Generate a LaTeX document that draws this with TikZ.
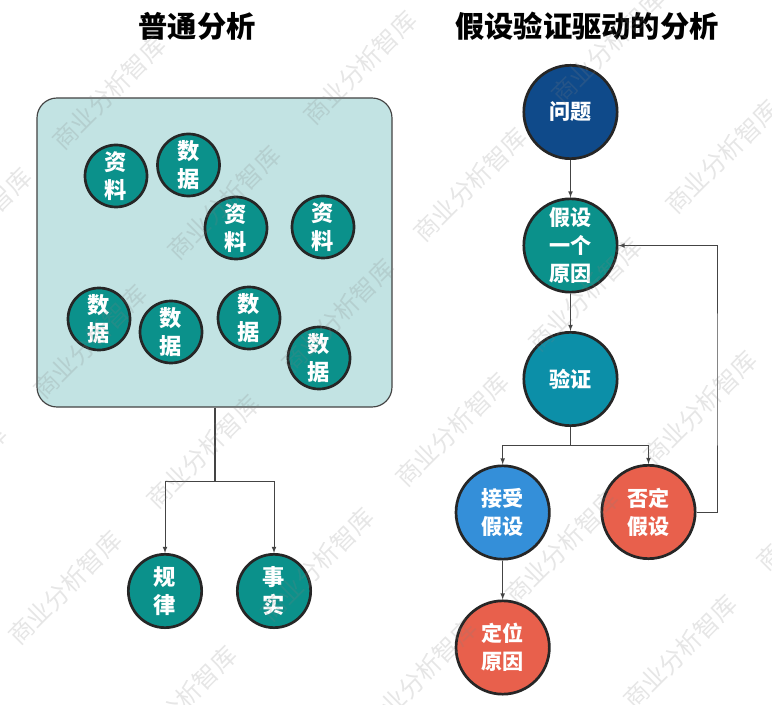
\documentclass[tikz,border=0pt]{standalone}
\usepackage{fontspec}
\setmainfont{Noto Sans CJK SC}
\usetikzlibrary{shapes}
\usetikzlibrary{arrows}

\definecolor{tealc}{HTML}{0B918B}
\definecolor{boxc}{HTML}{C2E3E3}
\definecolor{navyc}{HTML}{0F4A8A}
\definecolor{cyanc}{HTML}{0C8FA8}
\definecolor{bluec}{HTML}{348FD9}
\definecolor{redc}{HTML}{E8604C}
\definecolor{linec}{HTML}{444444}

\tikzset{
  ball/.style={circle,draw=black!85,line width=2.3pt,inner sep=0pt,text=white,align=center,
    font=\fontsize{18}{24}\selectfont\bfseries},
  smallball/.style={ball,fill=tealc,minimum size=1.86cm,font=\fontsize{19}{24}\selectfont\bfseries},
  midball/.style={ball,fill=tealc,minimum size=2.2cm,font=\fontsize{19}{24}\selectfont\bfseries},
  bigball/.style={ball,minimum size=2.8cm},
  ttext/.style={font=\fontsize{25}{30}\selectfont\bfseries},
  link/.style={linec,line width=.8pt},
  trunk/.style={linec,line width=1.2pt},
  wmark/.style={rotate=45,text=gray,opacity=.2,font=\fontsize{21}{24}\selectfont}
}

\begin{document}
\begin{tikzpicture}[x=.03cm,y=-.03cm]
    \useasboundingbox (0,0) rectangle (772,705);
    \clip (0,0) rectangle (772,705);

    \node[ttext] (ttleft) at (197,26) {普通分析};
    \node[ttext] (ttright) at (587,26) {假设验证驱动的分析};

    \node[draw=linec,line width=1pt,fill=boxc,rounded corners=.6cm,inner sep=0pt,
      minimum width=10.65cm,minimum height=9.27cm] (box) at (214.5,252.5) {};

    \node[smallball] (zl1) at (116,176) {资\\料};
    \node[smallball] (sj1) at (188.5,165) {数\\据};
    \node[smallball] (zl2) at (236,228) {资\\料};
    \node[smallball] (zl3) at (323,227) {资\\料};
    \node[smallball] (sj2) at (99,319) {数\\据};
    \node[smallball] (sj3) at (171,332) {数\\据};
    \node[smallball] (sj4) at (249,318) {数\\据};
    \node[smallball] (sj5) at (319,358) {数\\据};

    \node[midball] (guilv) at (165,591) {规\\律};
    \node[midball] (shishi) at (274,591) {事\\实};
    \coordinate (forkl) at (215,481);

    \draw[trunk] (box.south -| forkl) -- (forkl);
    \draw[link,-latex] (forkl) -| (guilv);
    \draw[link,-latex] (forkl) -| (shishi);

    \node[bigball,fill=navyc] (wenti) at (570.5,112) {问题};
    \node[bigball,fill=tealc] (jiashe) at (570.5,245.5) {假设\\一个\\原因};
    \node[bigball,fill=cyanc] (yanzh) at (570.5,379) {验证};
    \node[bigball,fill=bluec] (jieshou) at (502.7,512.5) {接受\\假设};
    \node[bigball,fill=redc] (fouding) at (648.5,512) {否定\\假设};
    \node[bigball,fill=redc] (dingwei) at (502.7,647.5) {定位\\原因};
    \coordinate (forkr) at (570.5,445.5);
    \coordinate (turn) at (717,380);

    \draw[link,-latex] (wenti) -- (jiashe);
    \draw[link,-latex] (jiashe) -- (yanzh);
    \draw[trunk] (yanzh) -- (forkr);
    \draw[link,-latex] (forkr) -| (jieshou);
    \draw[link,-latex] (forkr) -| (fouding);
    \draw[link,-latex] (jieshou) -- (dingwei);
    \draw[link,-latex] (fouding) -| (turn) |- (jiashe);

    \node[wmark] (wm1) at (109,93) {商业分析智库};
    \node[wmark] (wm2) at (360,68) {商业分析智库};
    \node[wmark] (wm3) at (224,203) {商业分析智库};
    \node[wmark] (wm4) at (-25,225) {商业分析智库};
    \node[wmark] (wm5) at (90,342) {商业分析智库};
    \node[wmark] (wm6) at (338,316) {商业分析智库};
    \node[wmark] (wm7) at (470,185) {商业分析智库};
    \node[wmark] (wm8) at (722,157) {商业分析智库};
    \node[wmark] (wm9) at (608,47) {商业分析智库};
    \node[wmark] (wm10) at (585,295) {商业分析智库};
    \node[wmark] (wm11) at (203,452) {商业分析智库};
    \node[wmark] (wm12) at (65,588) {商业分析智库};
    \node[wmark] (wm13) at (317,565) {商业分析智库};
    \node[wmark] (wm14) at (452,430) {商业分析智库};
    \node[wmark] (wm15) at (700,408) {商业分析智库};
    \node[wmark] (wm16) at (562,547) {商业分析智库};
    \node[wmark] (wm17) at (420,676) {商业分析智库};
    \node[wmark] (wm18) at (680,652) {商业分析智库};
    \node[wmark] (wm19) at (180,703) {商业分析智库};
    \node[wmark] (wm20) at (813,514) {商业分析智库};
    \node[wmark] (wm21) at (-50,482) {商业分析智库};
\end{tikzpicture}
\end{document}
